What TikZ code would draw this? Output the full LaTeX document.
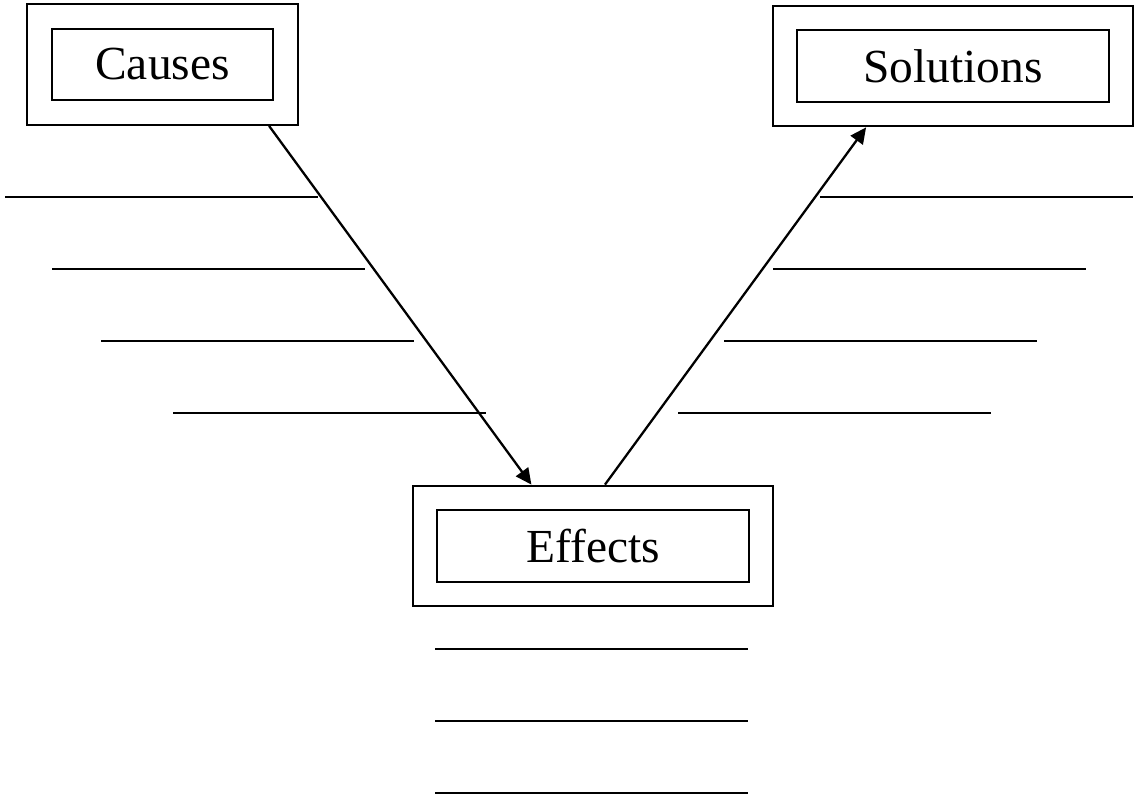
\documentclass[tikz,border=0pt]{standalone}
\usepackage{fontspec}
\setmainfont{Liberation Serif}
\usetikzlibrary{arrows.meta,calc}

\begin{document}
\begin{tikzpicture}[
    x=0.02cm, y=-0.02cm,
    line width=1.3pt,
    font=\fontsize{27}{32}\selectfont,
    outerbox/.style={draw, minimum height=2.41cm},
    innerbox/.style={draw, inner sep=0pt, minimum height=1.43cm},
    flow/.style={-{Triangle[length=0.32cm,width=0.3cm]}}
]
    \useasboundingbox (0,0) rectangle (1135,804);

    % Kaesten
    \node[outerbox, minimum width=5.42cm] (causes) at (162.5,64.5) {};
    \node[innerbox, minimum width=4.42cm] (causesin) at (162.5,64.5) {Causes};
    \node[outerbox, minimum width=7.2cm] (solutions) at (953,66) {};
    \node[innerbox, minimum width=6.24cm] (solutionsin) at (953,66) {Solutions};
    \node[outerbox, minimum width=7.2cm] (effects) at (593,546) {};
    \node[innerbox, minimum width=6.24cm] (effectsin) at (593,546) {Effects};

    % Pfeile
    \draw[flow] ($(causes.south west)!0.89!(causes.south east)$)
        -- ($(effects.north west)!0.33!(effects.north east)$);
    \draw[flow] ($(effects.north west)!0.533!(effects.north east)$)
        -- ($(solutions.south west)!0.26!(solutions.south east)$);

    % Leerzeilen
    \foreach \y/\a in {197/5,269/52,341/101,413/173}
        \draw (\a,\y) -- ++(313,0);
    \foreach \y/\a in {197/820,269/773,341/724,413/678}
        \draw (\a,\y) -- ++(313,0);
    \foreach \y in {649,721,793}
        \draw (435,\y) -- ++(313,0);
\end{tikzpicture}
\end{document}
